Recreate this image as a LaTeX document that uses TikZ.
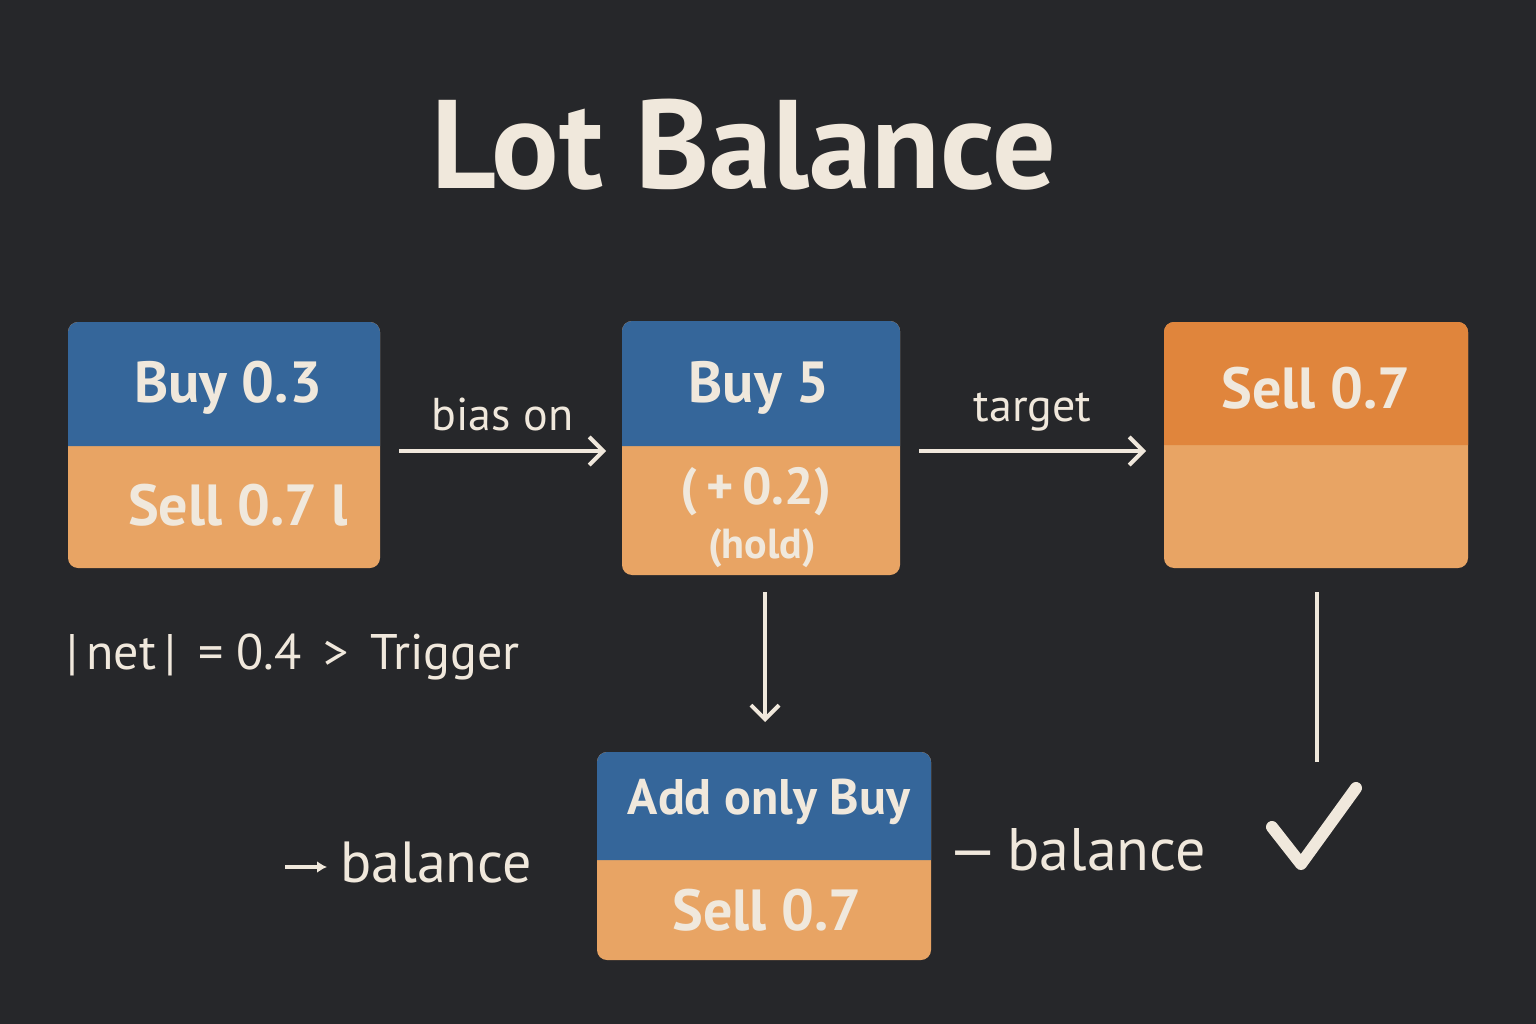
\documentclass[tikz,border=0pt]{standalone}
\usepackage{fontspec}
\setmainfont{PT Sans}
\usetikzlibrary{arrows.meta, positioning}
\definecolor{bg}{HTML}{26272A}
\definecolor{ink}{HTML}{F0E8DC}
\definecolor{blu}{HTML}{35669A}
\definecolor{org}{HTML}{E8A464}
\definecolor{dorg}{HTML}{E0853C}
\newcommand{\fs}[1]{\fontsize{#1}{#1}\selectfont}
% split box: name, x1, y1, x2, ymid, y2, top colour
\newcommand{\splitbox}[7]{
    \fill[org, rounded corners=10] (#2,#3) rectangle (#4,#6);
    \fill[#7] (#2,#5) [rounded corners=10] -- (#2,#3) -- (#4,#3) [sharp corners] -- (#4,#5) -- cycle;
    \node[inner sep=0, minimum width={#4-#2}, minimum height={#6-#3}] (#1) at ({(#2+#4)/2},{(#3+#6)/2}) {};
}
\tikzset{
    txt/.style={text=ink, inner sep=0},
    btxt/.style={txt, font=\fs{#1}\bfseries},
    conn/.style={draw=ink, line width=4, -{Straight Barb[length=14, width=28, line width=4]}}
}
\begin{document}
\begin{tikzpicture}[x=1pt, y=-1pt]
    \fill[bg] (0,0) rectangle (1536,1024);
    \useasboundingbox (0,0) rectangle (1536,1024);
    \node[btxt=126] (title) at (744,145) {Lot Balance};
    \splitbox{buy}{68}{322}{380}{446}{568}{blu}
    \splitbox{hold}{622}{321}{900}{446}{575}{blu}
    \splitbox{sell}{1164}{322}{1468}{445}{568}{dorg}
    \splitbox{add}{597}{752}{931}{860}{960}{blu}
    \node[btxt=58] at (228,388) {Buy 0.3};
    \begin{scope}
        \clip (68,446) rectangle (346,568);
        \node[btxt=58, anchor=west] at (128,505) {Sell 0.7 lc};
    \end{scope}
    \node[btxt=58] at (759,388) {Buy 5};
    \node[btxt=52] at (756,492) {(\,+\,0.2)};
    \node[btxt=42] at (762,548) {(hold)};
    \node[btxt=58] at (1316,388) {Sell 0.7};
    \node[btxt=50] at (769,802) {Add only Buy};
    \node[btxt=58] at (767,910) {Sell 0.7};
    \coordinate (a1) at (399,451);
    \coordinate (a2) at (606,451);
    \coordinate (b1) at (919,451);
    \coordinate (b2) at (1146,451);
    \coordinate (c1) at (765,592);
    \coordinate (c2) at (765,722);
    \coordinate (d1) at (1317,592);
    \coordinate (d2) at (1317,762);
    \draw[conn] (a1) -- (a2) node[txt, midway, anchor=south, yshift=18pt, font=\fs{46}] {bias on};
    \draw[conn] (b1) -- (b2) node[txt, midway, anchor=south, yshift=18pt, font=\fs{46}] {target};
    \draw[conn] (c1) -- (c2);
    \draw[draw=ink, line width=4] (d1) -- (d2);
    \draw[draw=ink, line width=12, line cap=round, line join=round] (1272,827) -- (1301,864) -- (1356,788);
    \node[txt, font=\fs{50}, anchor=west] at (66,657) {|\,net\,|\, = 0.4 \,>\, Trigger};
    \node[txt, font=\fs{58}, anchor=west] (bal1) at (340,863) {balance};
    \draw[draw=ink, line width=4, -{Latex[length=10, width=12]}] (285,867) -- (327,867);
    \node[txt, font=\fs{60}, anchor=west] (bal2) at (948,850) {—\,balance};
\end{tikzpicture}
\end{document}
